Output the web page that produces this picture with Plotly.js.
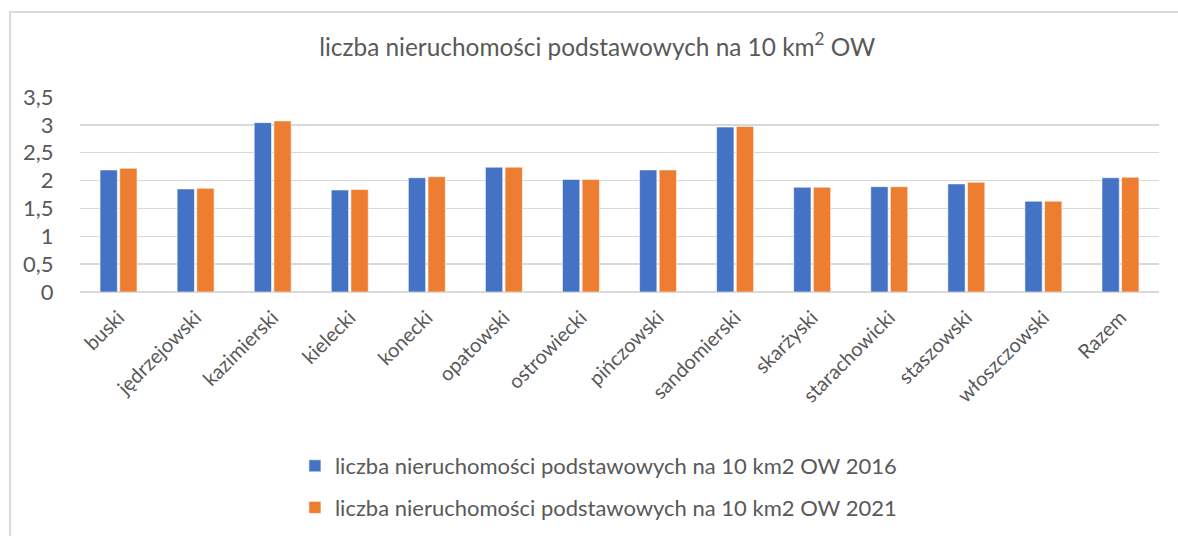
<!DOCTYPE html>
<html>
<head>
<meta charset="utf-8">
<script src="https://cdn.plot.ly/plotly-3.0.1.min.js"></script>
<style>
  html, body { margin: 0; padding: 0; background: #ffffff; }
  #wrap { position: relative; width: 1178px; height: 536px; overflow: hidden; background: #fff; }
  #frame { position: absolute; left: 9px; top: 11px; width: 1300px; height: 700px;
           border-top: 2px solid #d9d9d9; border-left: 2px solid #d9d9d9; }
  #chart { position: absolute; left: 0; top: 0; width: 1178px; height: 536px; }
</style>
</head>
<body>
<div id="wrap">
  <div id="frame"></div>
  <div id="chart"></div>
</div>
<script>
const categories = ["buski", "jędrzejowski", "kazimierski", "kielecki", "konecki", "opatowski",
  "ostrowiecki", "pińczowski", "sandomierski", "skarżyski", "starachowicki", "staszowski",
  "włoszczowski", "Razem"];
const values2016 = [2.19, 1.85, 3.04, 1.83, 2.05, 2.24, 2.02, 2.19, 2.96, 1.88, 1.89, 1.94, 1.63, 2.05];
const values2021 = [2.22, 1.86, 3.07, 1.84, 2.07, 2.24, 2.02, 2.19, 2.97, 1.88, 1.89, 1.97, 1.63, 2.06];
const seriesNames = ["liczba nieruchomości podstawowych na 10 km2 OW 2016",
                     "liczba nieruchomości podstawowych na 10 km2 OW 2021"];
const chartTitle = "liczba nieruchomości podstawowych na 10 km<sup>2</sup> OW";
const yTicks = [0, 0.5, 1, 1.5, 2, 2.5, 3, 3.5];

const fontFam = "Lato, 'Open Sans', sans-serif";
const textColor = "#595959";

const traces = [
  { type: "bar", x: categories, y: values2016, name: seriesNames[0], legendgroup: "a",
    marker: { color: "#4472C4", line: { color: "rgba(255,255,255,0.55)", width: 1 } },
    hoverinfo: "x+y" },
  { type: "bar", x: categories, y: values2021, name: seriesNames[1], legendgroup: "b",
    marker: { color: "#ED7D31", line: { color: "rgba(255,255,255,0.55)", width: 1 } },
    hoverinfo: "x+y" }
];

const layout = {
  width: 1178, height: 536,
  margin: { l: 80, r: 19, t: 97, b: 244, autoexpand: false },
  paper_bgcolor: "rgba(0,0,0,0)",
  plot_bgcolor: "rgba(0,0,0,0)",
  separators: ",.",
  font: { family: fontFam, color: textColor, size: 16 },
  title: { text: chartTitle, x: 0.507, xref: "container", xanchor: "center",
           y: 0.912, yref: "container", yanchor: "middle",
           font: { family: fontFam, size: 24.4, color: textColor } },
  barmode: "group",
  bargap: 0.49,
  bargroupgap: 0.12,
  xaxis: {
    type: "category", tickangle: -45, showgrid: false, zeroline: false, showline: false,
    ticks: "outside", ticklen: 5, tickcolor: "rgba(0,0,0,0)",
    tickfont: { family: fontFam, size: 20, color: textColor }, automargin: false
  },
  yaxis: {
    range: [0, 3.5], tickvals: yTicks, showgrid: true, gridcolor: "#d9d9d9", gridwidth: 1.5,
    zeroline: true, zerolinecolor: "#d9d9d9", zerolinewidth: 1.5, showline: false,
    ticks: "outside", ticklen: 21, tickcolor: "rgba(0,0,0,0)",
    tickfont: { family: fontFam, size: 22, color: textColor }, automargin: false
  },
  showlegend: true,
  legend: {
    orientation: "v", x: 0.508, xref: "container", xanchor: "center",
    y: 1 - 445 / 536, yref: "container", yanchor: "top",
    traceorder: "grouped", tracegroupgap: 10,
    font: { family: fontFam, size: 22, color: textColor },
    bgcolor: "rgba(0,0,0,0)", itemclick: false, itemdoubleclick: false
  }
};

Plotly.newPlot("chart", traces, layout, { displayModeBar: false, staticPlot: true });
</script>
</body>
</html>
